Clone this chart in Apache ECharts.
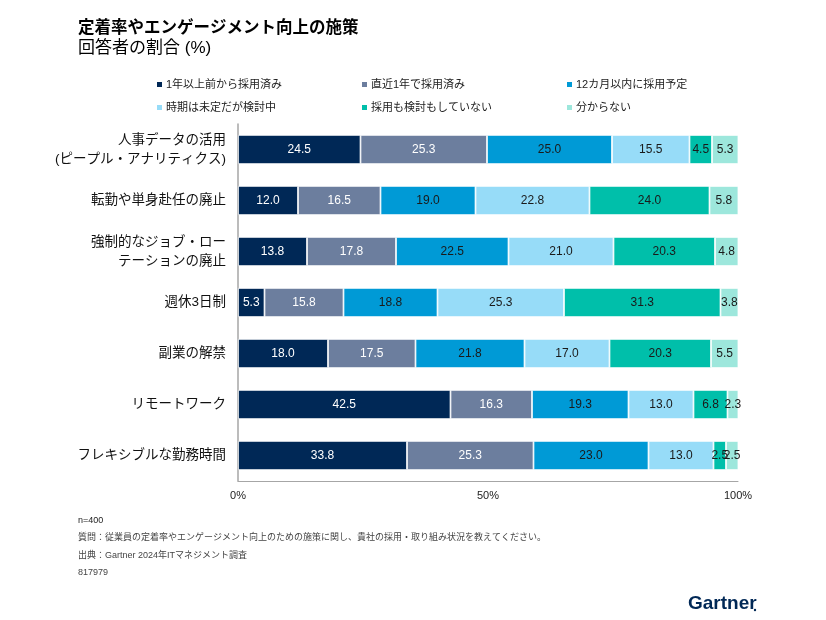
<!DOCTYPE html>
<html><head><meta charset="utf-8">
<script src="https://cdn.jsdelivr.net/npm/echarts@6/dist/echarts.min.js"></script>
<style>html,body{margin:0;padding:0;background:#fff}#c{width:826px;height:620px}</style>
</head><body><div id="c"></div>
<script>
const categories = ['人事データの活用\n(ピープル・アナリティクス)','転勤や単身赴任の廃止','強制的なジョブ・ロー\nテーションの廃止','週休3日制','副業の解禁','リモートワーク','フレキシブルな勤務時間'];
const seriesNames = ['1年以上前から採用済み','直近1年で採用済み','12カ月以内に採用予定','時期は未定だが検討中','採用も検討もしていない','分からない'];
const adoptedLong = [24.5,12.0,13.8,5.3,18.0,42.5,33.8];
const adoptedRecent = [25.3,16.5,17.8,15.8,17.5,16.3,25.3];
const planned12m = [25.0,19.0,22.5,18.8,21.8,19.3,23.0];
const considering = [15.5,22.8,21.0,25.3,17.0,13.0,13.0];
const notConsidering = [4.5,24.0,20.3,31.3,20.3,6.8,2.5];
const unknown = [5.3,5.8,4.8,3.8,5.5,2.3,2.5];
const xTicks = ['0%','50%','100%'];

const seriesData = [adoptedLong, adoptedRecent, planned12m, considering, notConsidering, unknown];
const colors = ['#002856','#6c7e9e','#009ad6','#97dcf8','#00bfaa','#9de7dc'];
const labelColors = ['#ffffff','#ffffff','#1a1a1a','#1a1a1a','#1a1a1a','#1a1a1a'];
const FONT = '"Liberation Sans", Arial, "Noto Sans CJK JP", sans-serif';

const chart = echarts.init(document.getElementById('c'), null, {renderer:'canvas'});
const legendPos = [[150,74],[355,74],[560,74],[150,97],[355,97],[560,97]];
const option = {
  animation:false,
  textStyle:{fontFamily:FONT},
  grid:{left:238,right:88,top:124,bottom:139,containLabel:false},
  legend: seriesNames.map((n,i)=>({
    data:[n], left:legendPos[i][0], top:legendPos[i][1], icon:'rect', itemWidth:7, itemHeight:7, itemGap:4,
    textStyle:{fontSize:11,color:'#222',fontFamily:FONT,padding:[0,0,0,-2]}, selectedMode:false
  })),
  xAxis:{type:'value',min:0,max:100,interval:50,
    axisLine:{show:true,lineStyle:{color:'#a6a6a6',width:1}},
    axisTick:{show:false},splitLine:{show:false},
    axisLabel:{formatter:(v)=>xTicks[v/50],fontSize:11,color:'#222',margin:9}},
  yAxis:{type:'category',data:categories,inverse:true,
    axisLine:{show:true,lineStyle:{color:'#a6a6a6',width:1.5}},
    axisTick:{show:false},
    axisLabel:{fontSize:13.5,color:'#111',margin:12,lineHeight:19,align:'right'}},
  series: seriesNames.map((n,i)=>({
    name:n,type:'bar',stack:'all',barWidth:'57%',data:seriesData[i],
    itemStyle:{color:colors[i],borderColor:'#ffffff',borderWidth:0.8},
    label:{show:true,position:'inside',color:labelColors[i],fontSize:12,overflow:'none',
      formatter:(p)=>p.value.toFixed(1)}
  })),
  graphic:[
    {type:'text',left:78,top:20,style:{text:'定着率やエンゲージメント向上の施策',font:'bold 16.5px '+FONT,fill:'#000'}},
    {type:'text',left:78,top:40,style:{text:'回答者の割合 (%)',font:'17px '+FONT,fill:'#000'}},
    {type:'text',left:78,top:516,style:{text:'n=400',font:'9px '+FONT,fill:'#222'}},
    {type:'text',left:78,top:533,style:{text:'質問：従業員の定着率やエンゲージメント向上のための施策に関し、貴社の採用・取り組み状況を教えてください。',font:'9px '+FONT,fill:'#444'}},
    {type:'text',left:78,top:551,style:{text:'出典：Gartner 2024年ITマネジメント調査',font:'9px '+FONT,fill:'#444'}},
    {type:'text',left:78,top:568,style:{text:'817979',font:'9px '+FONT,fill:'#444'}},
    {type:'text',left:688,top:594,style:{text:'Gartner',font:'bold 19px '+FONT,fill:'#002856'}},
    {type:'circle',shape:{cx:755,cy:610,r:1.2},style:{fill:'#002856'}}
  ]
};
chart.setOption(option);
</script></body></html>
